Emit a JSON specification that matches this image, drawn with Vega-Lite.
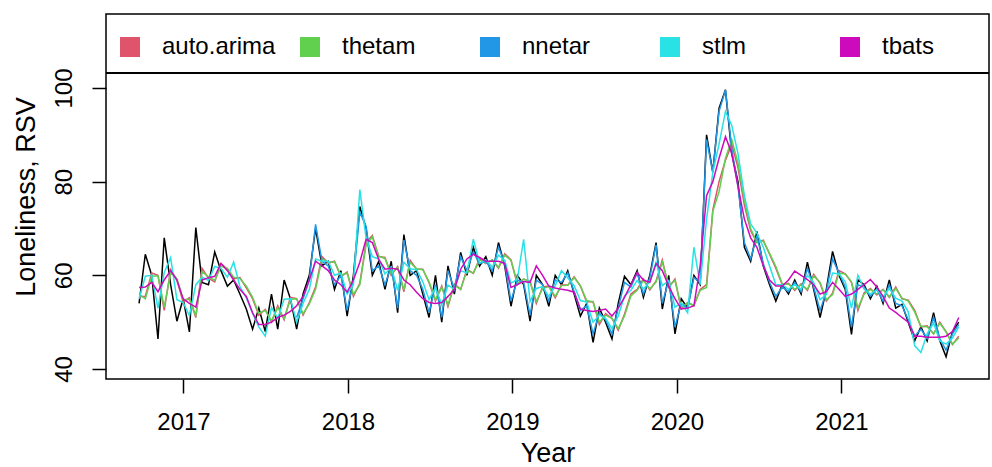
{
"$schema":"https://vega.github.io/schema/vega-lite/v6.json",
"width":883,"height":365,
"autosize":{"type":"none"},
"padding":{"left":106,"top":14,"right":3,"bottom":88},
"background":"white",
"config":{
 "font":"Liberation Sans",
 "view":{"stroke":"black","strokeWidth":1.5},
 "axisX":{"domain":false,"grid":false,"tickSize":14,"tickWidth":1.5,"tickColor":"black","labelFontSize":24,"labelColor":"black","labelPadding":17,"labelFlush":false,"titleFontSize":27,"titleFontWeight":"normal","titleColor":"black","titlePadding":6},
 "axisY":{"domain":false,"grid":false,"tickSize":14,"tickWidth":1.5,"tickColor":"black","labelFontSize":24,"labelColor":"black","labelAngle":270,"labelAlign":"center","labelBaseline":"alphabetic","labelPadding":21,"labelFlush":false,"titleFontSize":27,"titleFontWeight":"normal","titleColor":"black","titlePadding":12},
 "legend":{"orient":"none","legendX":12,"legendY":21,"direction":"horizontal","columns":5,"gridAlign":"all","columnPadding":21,"symbolType":"square","symbolSize":324,"symbolStrokeWidth":2,"symbolStrokeColor":"black","symbolOpacity":1,"labelFontSize":24,"labelOffset":20,"labelColor":"black","labelFont":"Liberation Sans","padding":0}
},
"data":{"values":[
{"t":2016.730,"A":54,"R":55.5,"G":56,"C":55,"M":57.4},
{"t":2016.768,"A":64.5,"R":55.5,"G":55,"C":59.8,"M":57.5},
{"t":2016.807,"A":60,"R":60.5,"G":59.8,"C":60,"M":58.5},
{"t":2016.845,"A":46.4,"R":60,"G":59.9,"C":53,"M":56.5},
{"t":2016.883,"A":68,"R":52.5,"G":53.2,"C":60.6,"M":59},
{"t":2016.922,"A":58,"R":61.2,"G":60.6,"C":63.8,"M":61},
{"t":2016.960,"A":50.2,"R":59,"G":59.3,"C":54.8,"M":59},
{"t":2016.998,"A":55,"R":54.3,"G":54.8,"C":54.2,"M":55},
{"t":2017.036,"A":47.9,"R":55.2,"G":54.9,"C":51.4,"M":54},
{"t":2017.075,"A":70.2,"R":51,"G":51.4,"C":58,"M":53.2},
{"t":2017.113,"A":58.5,"R":61.5,"G":60.8,"C":59.6,"M":59},
{"t":2017.152,"A":58,"R":59.4,"G":59.7,"C":58.9,"M":59.5},
{"t":2017.190,"A":65,"R":58.6,"G":58.9,"C":61.9,"M":59.8},
{"t":2017.228,"A":61,"R":62.5,"G":62,"C":61.5,"M":62.5},
{"t":2017.267,"A":57.7,"R":61.3,"G":61.5,"C":59.6,"M":61},
{"t":2017.305,"A":59,"R":59.3,"G":59.6,"C":62.8,"M":59},
{"t":2017.343,"A":56,"R":59.5,"G":59.3,"C":57.6,"M":57},
{"t":2017.382,"A":52.8,"R":57.3,"G":57.7,"C":55.2,"M":55.5},
{"t":2017.420,"A":48.5,"R":55,"G":55.3,"C":51.9,"M":52},
{"t":2017.458,"A":53,"R":51.5,"G":51.9,"C":49,"M":49.5},
{"t":2017.497,"A":48,"R":52.7,"G":52.5,"C":47,"M":49.5},
{"t":2017.535,"A":56,"R":50,"G":50.3,"C":53.1,"M":50},
{"t":2017.573,"A":48.5,"R":53.5,"G":53.1,"C":50.8,"M":51},
{"t":2017.612,"A":59,"R":50.5,"G":50.8,"C":54.9,"M":51.5},
{"t":2017.650,"A":55,"R":55.3,"G":54.9,"C":55,"M":52.3},
{"t":2017.688,"A":48.5,"R":55,"G":55,"B":51,"C":50,"M":53.5},
{"t":2017.727,"A":56,"R":51.5,"G":51.8,"B":55,"C":54,"M":55.5},
{"t":2017.765,"A":60,"R":54.2,"G":53.9,"B":59,"C":57,"M":59},
{"t":2017.803,"A":70,"R":57.5,"G":57,"B":70.9,"C":63.5,"M":63},
{"t":2017.842,"A":62,"R":64,"G":63.5,"B":63,"C":63,"M":62},
{"t":2017.880,"A":63,"R":62.6,"G":62.8,"B":62,"C":63,"M":61},
{"t":2017.918,"A":57,"R":63,"G":62.9,"B":58,"C":60,"M":59},
{"t":2017.957,"A":61,"R":59.7,"G":60,"B":60,"C":60.5,"M":58},
{"t":2017.995,"A":51.3,"R":60.7,"G":60.5,"B":52.5,"C":56,"M":56.4},
{"t":2018.033,"A":60,"R":55.5,"G":55.9,"B":59,"C":58,"M":59},
{"t":2018.072,"A":74.7,"R":58.3,"G":58,"B":73.5,"C":78.3,"M":62.8},
{"t":2018.110,"A":70,"R":67,"G":66.4,"B":70.5,"C":68,"M":67.7},
{"t":2018.148,"A":60,"R":68.5,"G":68.2,"B":61,"C":64,"M":67},
{"t":2018.187,"A":63,"R":64,"G":64.1,"B":62,"C":63.5,"M":63.4},
{"t":2018.225,"A":57,"R":63.8,"G":63.6,"B":58,"C":60.3,"M":61.3},
{"t":2018.263,"A":63,"R":60,"G":60.3,"B":62,"C":61.7,"M":61.5},
{"t":2018.302,"A":52,"R":61.9,"G":61.7,"B":53,"C":56.8,"M":61.3},
{"t":2018.340,"A":68.7,"R":56.5,"G":56.9,"B":67.5,"C":62.8,"M":59},
{"t":2018.378,"A":60,"R":63.2,"G":62.8,"B":61,"C":61.4,"M":58},
{"t":2018.417,"A":61,"R":61.3,"G":61.4,"B":60,"C":61.2,"M":56.4},
{"t":2018.455,"A":56,"R":61.3,"G":61.2,"B":57,"C":58.6,"M":55},
{"t":2018.493,"A":51,"R":58.4,"G":58.6,"B":52,"C":54.8,"M":54.2},
{"t":2018.532,"A":60,"R":54.5,"G":54.8,"B":58,"C":57.4,"M":54},
{"t":2018.570,"A":50,"R":57.7,"G":57.4,"B":51,"C":53.7,"M":54.2},
{"t":2018.608,"A":62,"R":53.3,"G":53.7,"B":61,"C":57.9,"M":55.5},
{"t":2018.647,"A":56,"R":58.2,"G":57.9,"B":57,"C":57,"M":57},
{"t":2018.685,"A":64.9,"R":57,"G":57,"B":64,"C":61,"M":61.3},
{"t":2018.723,"A":60,"R":61.3,"G":61,"B":61,"C":60.5,"M":63.5},
{"t":2018.762,"A":66,"R":60.4,"G":60.5,"B":65,"C":67.7,"M":64.5},
{"t":2018.800,"A":62,"R":63.6,"G":63.3,"B":62.5,"C":62.6,"M":63.8},
{"t":2018.838,"A":64,"R":62.5,"G":62.6,"B":63,"C":63.3,"M":63},
{"t":2018.877,"A":60,"R":63.3,"G":63.3,"B":61,"C":61.7,"M":63},
{"t":2018.915,"A":67,"R":61.5,"G":61.7,"B":66,"C":64.3,"M":63},
{"t":2018.953,"A":62,"R":64.6,"G":64.3,"B":62.5,"C":63.2,"M":62.5},
{"t":2018.991,"A":53.4,"R":63.3,"G":63.2,"B":54.5,"C":58.3,"M":57.4},
{"t":2019.030,"A":60,"R":58,"G":58.3,"B":59,"C":59.2,"M":58},
{"t":2019.068,"A":58,"R":59.2,"G":59.2,"B":58.5,"C":67.7,"M":58.7},
{"t":2019.107,"A":50.2,"R":58.7,"G":58.6,"B":51.5,"C":54.4,"M":58.5},
{"t":2019.145,"A":60,"R":54,"G":54.4,"B":59,"C":57.2,"M":62},
{"t":2019.183,"A":58,"R":57.5,"G":57.2,"B":58,"C":57.6,"M":60},
{"t":2019.221,"A":53.4,"R":57.7,"G":57.6,"B":54.5,"C":55.5,"M":57.7},
{"t":2019.260,"A":60,"R":55.2,"G":55.5,"B":59,"C":57.8,"M":57.3},
{"t":2019.298,"A":58,"R":58,"G":57.8,"B":58.5,"C":61,"M":57},
{"t":2019.336,"A":61,"R":57.9,"G":57.9,"B":60.5,"C":59.5,"M":56.8},
{"t":2019.375,"A":56,"R":59.7,"G":59.5,"B":56.5,"C":57.8,"M":56.4},
{"t":2019.413,"A":51.3,"R":57.7,"G":57.8,"B":52.5,"C":54.6,"M":52.8},
{"t":2019.451,"A":54,"R":54.3,"G":54.6,"B":53.5,"C":54.3,"M":52.5},
{"t":2019.490,"A":45.7,"R":54.4,"G":54.3,"B":47.5,"C":50,"M":52.3},
{"t":2019.528,"A":53,"R":49.5,"G":50,"B":52,"C":51.5,"M":52.5},
{"t":2019.566,"A":50,"R":51.8,"G":51.5,"B":50.5,"C":50.8,"M":52.8},
{"t":2019.605,"A":46.4,"R":50.8,"G":50.8,"B":47.5,"C":48.6,"M":51.3},
{"t":2019.643,"A":54,"R":48.3,"G":48.6,"B":53,"C":51.3,"M":53},
{"t":2019.681,"A":59.8,"R":51.7,"G":51.3,"B":58.5,"C":55.6,"M":55.3},
{"t":2019.720,"A":58,"R":56,"G":55.6,"B":57.5,"C":56.8,"M":58},
{"t":2019.758,"A":61,"R":57,"G":56.8,"B":60.5,"C":58.9,"M":60.6},
{"t":2019.796,"A":55.3,"R":59.2,"G":58.9,"B":56,"C":57.1,"M":59},
{"t":2019.835,"A":60,"R":56.9,"G":57.1,"B":59.5,"C":58.6,"M":58.5},
{"t":2019.873,"A":67,"R":58.8,"G":58.6,"B":66.5,"C":62.8,"M":62.5},
{"t":2019.911,"A":52.8,"R":63.3,"G":62.8,"B":54,"C":57.8,"M":61},
{"t":2019.950,"A":60,"R":57.4,"G":57.8,"B":59,"C":58.9,"M":57.7},
{"t":2019.988,"A":47.5,"R":59.2,"G":58.9,"B":49,"C":53.2,"M":55},
{"t":2020.026,"A":55,"R":52.8,"G":53.2,"B":54,"C":54.1,"M":52.8},
{"t":2020.065,"A":53,"R":54.2,"G":54.1,"B":53,"C":52,"M":53},
{"t":2020.103,"A":60,"R":53.5,"G":53.6,"B":59.5,"C":66,"M":53.5},
{"t":2020.141,"A":58,"R":57,"G":56.8,"B":58.5,"C":58,"M":62},
{"t":2020.180,"A":90,"R":58,"G":57.4,"B":89,"C":72,"M":77},
{"t":2020.218,"A":82,"R":74,"G":73.7,"B":82,"C":82,"M":80},
{"t":2020.256,"A":95.7,"R":80,"G":77.9,"B":95,"C":88,"M":85},
{"t":2020.295,"A":99.6,"R":84.6,"G":85,"B":99.6,"C":95,"M":89.6},
{"t":2020.333,"A":86,"R":88,"G":89,"B":87,"C":92,"M":86},
{"t":2020.371,"A":80,"R":83,"G":84,"B":79,"C":86,"M":79},
{"t":2020.410,"A":66,"R":75,"G":76,"B":67,"C":77,"M":72},
{"t":2020.448,"A":63,"R":69.5,"G":70,"B":63.5,"C":71,"M":68},
{"t":2020.486,"A":69.4,"R":67,"G":67,"B":68.5,"C":69,"M":66},
{"t":2020.525,"A":62,"R":67.5,"G":67.3,"B":62.5,"C":66,"M":62},
{"t":2020.563,"A":58,"R":64.5,"G":64.7,"B":58.5,"C":62,"M":59},
{"t":2020.601,"A":54.5,"R":61.5,"G":61.9,"B":55.5,"C":58,"M":57.7},
{"t":2020.640,"A":58,"R":58,"G":58.2,"B":57.5,"C":58,"M":57.7},
{"t":2020.678,"A":56,"R":58.3,"G":58.1,"B":56.5,"C":57,"M":59},
{"t":2020.716,"A":59,"R":56.8,"G":57,"B":58.5,"C":58,"M":60.9},
{"t":2020.755,"A":56,"R":58.2,"G":58,"B":56.5,"C":57,"M":60},
{"t":2020.793,"A":62.8,"R":56.8,"G":57,"B":61.5,"C":60,"M":59.1},
{"t":2020.831,"A":57,"R":60.2,"G":59.9,"B":57.5,"C":58.5,"M":58},
{"t":2020.870,"A":51,"R":58.3,"G":58.5,"B":52.5,"C":54.8,"M":56},
{"t":2020.908,"A":57,"R":54.5,"G":54.8,"B":56.5,"C":55.9,"M":56.5},
{"t":2020.946,"A":65.1,"R":56.2,"G":55.9,"B":63.5,"C":60.5,"M":58.5},
{"t":2020.985,"A":60,"R":61,"G":60.5,"B":60.5,"C":60.3,"M":57},
{"t":2021.023,"A":57,"R":60.3,"G":60.3,"B":57.5,"C":58.6,"M":55.5},
{"t":2021.061,"A":47.4,"R":58.5,"G":58.6,"B":49,"C":53,"M":56},
{"t":2021.100,"A":59,"R":52.5,"G":53,"B":58,"C":60,"M":57},
{"t":2021.138,"A":58,"R":56.3,"G":56,"B":57.5,"C":57,"M":58},
{"t":2021.176,"A":55,"R":57.2,"G":57,"B":55.5,"C":56,"M":59.1},
{"t":2021.215,"A":57.7,"R":55.8,"G":56,"B":57,"C":56.9,"M":57.5},
{"t":2021.253,"A":54,"R":57,"G":56.9,"B":54.5,"C":55.4,"M":55.5},
{"t":2021.291,"A":59,"R":55.3,"G":55.4,"B":58,"C":57.2,"M":53},
{"t":2021.330,"A":53,"R":57.5,"G":57.2,"B":54,"C":55.1,"M":52.1},
{"t":2021.368,"A":53.8,"R":55,"G":55.1,"B":53.5,"C":54.5,"M":51},
{"t":2021.406,"A":50,"R":54.7,"G":54.5,"B":50.5,"C":52.2,"M":50},
{"t":2021.445,"A":46,"R":52.5,"G":52.2,"B":47,"C":45,"M":47},
{"t":2021.483,"A":49,"R":49,"G":49.1,"B":48.5,"C":43.5,"M":47},
{"t":2021.521,"A":46,"R":49.2,"G":49,"B":46.5,"C":47.5,"M":46.8},
{"t":2021.560,"A":52,"R":47.5,"G":47.5,"B":51,"C":49.8,"M":46.8},
{"t":2021.598,"A":46,"R":50,"G":49.8,"B":46.5,"C":46,"M":46.8},
{"t":2021.636,"A":42.6,"R":48,"G":47.9,"B":44,"C":45.3,"M":47},
{"t":2021.675,"A":48,"R":45.2,"G":45.3,"B":47.5,"C":46.6,"M":48},
{"t":2021.713,"A":50,"R":47,"G":46.6,"B":49.5,"C":49,"M":51}
]},
"layer":[
{"mark":{"type":"point","shape":"square","filled":true,"stroke":"black","strokeWidth":2,"opacity":0},
 "encoding":{"fill":{"datum":"auto.arima","type":"nominal","scale":{"domain":["auto.arima","thetam","nnetar","stlm","tbats"],"range":["#DF536B","#61D04F","#2297E6","#28E2E5","#CD0BBC"]},"legend":{"title":null,"symbolType":"square","symbolStrokeColor":"black","symbolStrokeWidth":2,"symbolOpacity":1,"encode":{"symbols":{"enter":{"stroke":{"value":"#000000"},"strokeWidth":{"value":2}},"update":{"stroke":{"value":"#000000"},"strokeWidth":{"value":2},"strokeOpacity":{"value":1},"opacity":{"value":1}}}}}}}},
{"mark":{"type":"line","color":"black","strokeWidth":1.5},
 "encoding":{
  "x":{"field":"t","type":"quantitative","scale":{"domain":[2016.529,2021.897],"nice":false,"zero":false},"axis":{"values":[2017,2018,2019,2020,2021],"format":"d","title":"Year"}},
  "y":{"field":"A","type":"quantitative","scale":{"domain":[37.86,115.8],"nice":false,"zero":false},"axis":{"values":[40,60,80,100],"title":"Loneliness, RSV"}}}},
{"mark":{"type":"line","strokeWidth":1.5},
 "encoding":{
  "x":{"field":"t","type":"quantitative"},
  "y":{"field":"R","type":"quantitative","title":"Loneliness, RSV"},
  "color":{"datum":"auto.arima","type":"nominal","scale":{"domain":["auto.arima","thetam","nnetar","stlm","tbats"],"range":["#DF536B","#61D04F","#2297E6","#28E2E5","#CD0BBC"]},"legend":null}}},
{"mark":{"type":"line","strokeWidth":1.5},
 "encoding":{"x":{"field":"t","type":"quantitative"},"y":{"field":"G","type":"quantitative","title":"Loneliness, RSV"},"color":{"datum":"thetam","type":"nominal","legend":null}}},
{"mark":{"type":"line","strokeWidth":1.5},
 "encoding":{"x":{"field":"t","type":"quantitative"},"y":{"field":"B","type":"quantitative","title":"Loneliness, RSV"},"color":{"datum":"nnetar","type":"nominal","legend":null}}},
{"mark":{"type":"line","strokeWidth":1.5},
 "encoding":{"x":{"field":"t","type":"quantitative"},"y":{"field":"C","type":"quantitative","title":"Loneliness, RSV"},"color":{"datum":"stlm","type":"nominal","legend":null}}},
{"mark":{"type":"line","strokeWidth":1.5},
 "encoding":{"x":{"field":"t","type":"quantitative"},"y":{"field":"M","type":"quantitative","title":"Loneliness, RSV"},"color":{"datum":"tbats","type":"nominal","legend":null}}},
{"mark":{"type":"rule","color":"black","strokeWidth":1.5},
 "encoding":{"y":{"datum":103.2,"type":"quantitative"}}}
]
}
